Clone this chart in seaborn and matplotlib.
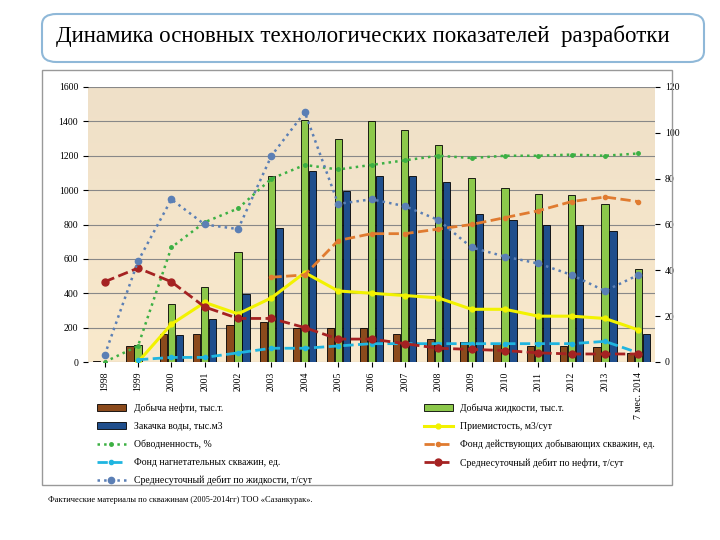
import numpy as np
import pandas as pd
import matplotlib
matplotlib.use("Agg")
import matplotlib.pyplot as plt
from matplotlib.patches import FancyBboxPatch, Rectangle
import seaborn as sns

years = ["1998", "1999", "2000", "2001", "2002", "2003", "2004", "2005", "2006",
         "2007", "2008", "2009", "2010", "2011", "2012", "2013", "7 мес. 2014"]

# bars, left axis
oil = [5, 95, 165, 165, 215, 230, 200, 200, 200, 165, 135, 115, 105, 95, 95, 90, 55]
liquid = [0, 100, 335, 435, 640, 1085, 1410, 1295, 1405, 1350, 1265, 1070, 1010, 975, 970, 920, 540]
injection = [0, 0, 160, 250, 395, 780, 1110, 995, 1085, 1080, 1050, 860, 825, 800, 800, 760, 165]

# lines, right axis
injectivity = [np.nan, 0, 16.5, 26, 21, 28, 39, 31, 30, 29, 28, 23, 23, 20, 20, 19, 14]
watercut = [0, 7, 50, 61, 67, 80, 86, 84, 86, 88, 90, 89, 90, 90, 90.5, 90, 91]
prod_wells = [np.nan] * 5 + [37, 38, 53, 56, 56, 58, 60, 63, 66, 70, 72, 70]
inj_wells = [np.nan, 1, 2, 2, 4, 6, 6, 7, 8, 8, 8, 8, 8, 8, 8, 9, 4]
oil_rate = [35, 41, 35, 24, 19, 19, 15, 10, 10, 8, 6, 5.5, 5, 4, 3.5, 3.5, 3.5]
liq_rate = [3, 44, 71, 60, 58, 90, 109, 69, 71, 68, 62, 50, 46, 43, 38, 31, 38]

bar_names = ["Добыча нефти, тыс.т.", "Добыча жидкости, тыс.т.", "Закачка воды, тыс.м3"]
bar_colors = ["#8B4A1C", "#8CC84B", "#1F4E8C"]

df = pd.DataFrame({"year": years * 3,
                   "value": oil + liquid + injection,
                   "series": np.repeat(bar_names, len(years))})

plt.rcParams['font.family'] = ['Liberation Serif', 'DejaVu Serif']
fig = plt.figure(figsize=(7.2, 5.4), dpi=100)

# frames
fig.patches.append(Rectangle((42 / 720, 1 - 485 / 540), 630 / 720, 415 / 540, transform=fig.transFigure,
                             fill=False, edgecolor="#999999", lw=1))
fig.patches.append(FancyBboxPatch((42 / 720, 1 - 62 / 540), 662 / 720, 48 / 540, transform=fig.transFigure,
                                  boxstyle="round,pad=0,rounding_size=0.02", fill=False,
                                  edgecolor="#8FB8D8", lw=1.5))
fig.text(56 / 720, 1 - 36 / 540, "Динамика основных технологических показателей  разработки",
         ha="left", va="center", fontsize=16.5)

ax = fig.add_axes([88 / 720, 1 - 362 / 540, 567 / 720, 275 / 540])
# beige gradient background
grad = np.linspace(0, 1, 100).reshape(-1, 1)
cmap = matplotlib.colors.LinearSegmentedColormap.from_list("bg", ["#F9E9CC", "#EFE0C8"])
ax.imshow(grad, cmap=cmap, aspect="auto", extent=[-0.5, len(years) - 0.5, 1600, 0], zorder=0)

sns.barplot(data=df, x="year", y="value", hue="series", hue_order=bar_names,
            palette=bar_colors, ax=ax, width=0.72, gap=0.1, edgecolor="black", linewidth=0.6,
            saturation=1, legend=False, zorder=2)
ax.set_xlim(-0.5, len(years) - 0.5)
ax.set_ylim(0, 1600)
ax.set_yticks(range(0, 1601, 200))
ax.grid(axis="y", color="#888888", lw=0.8, zorder=1)
ax.set_axisbelow(True)
ax.set_xlabel("")
ax.set_ylabel("")
ax.tick_params(labelsize=7)
ax.set_xticks(range(len(years)))
ax.set_xticklabels(years, rotation=90, fontsize=7)
for s in ax.spines.values():
    s.set_visible(False)

ax2 = ax.twinx()
ax2.set_ylim(0, 120)
ax2.set_yticks(range(0, 121, 20))
ax2.tick_params(labelsize=7)
for s in ax2.spines.values():
    s.set_visible(False)
x = np.arange(len(years))
l1, = ax2.plot(x, injectivity, color="#F2F200", ls="-", lw=2.2, marker="o", ms=3.5, label="Приемистость, м3/сут")
l2, = ax2.plot(x, watercut, color="#3CB043", ls=":", lw=1.8, marker="o", ms=2.5, label="Обводненность, %")
l3, = ax2.plot(x, prod_wells, color="#E07B30", ls="--", lw=2, marker="o", ms=3,
               label="Фонд действующих добывающих скважин, ед.")
l4, = ax2.plot(x, inj_wells, color="#1FB5E0", ls="--", lw=2, marker="o", ms=3,
               label="Фонд нагнетательных скважин, ед.")
l5, = ax2.plot(x, oil_rate, color="#A52222", ls="--", lw=2, marker="o", ms=5,
               label="Среднесуточный дебит по нефти, т/сут")
l6, = ax2.plot(x, liq_rate, color="#5B7FB5", ls=":", lw=1.8, marker="o", ms=4.5,
               label="Среднесуточный дебит по жидкости, т/сут")

bars = [Rectangle((0, 0), 1, 1, facecolor=c, edgecolor="black", lw=0.6) for c in bar_colors]
handles = [bars[0], bars[2], l2, l4, l6, bars[1], l1, l3, l5]
labels = [bar_names[0], bar_names[2], l2.get_label(), l4.get_label(), l6.get_label(),
          bar_names[1], l1.get_label(), l3.get_label(), l5.get_label()]
fig.legend(handles, labels, ncol=2, loc="upper left", bbox_to_anchor=(88 / 720, 1 - 395 / 540),
           frameon=False, fontsize=7, columnspacing=11.5, handlelength=3, labelspacing=0.9)

fig.text(48 / 720, 1 - 500 / 540, "Фактические материалы по скважинам (2005-2014гг) ТОО «Сазанкурак».",
         fontsize=6, va="center")

fig.savefig("out.png", dpi=100)
